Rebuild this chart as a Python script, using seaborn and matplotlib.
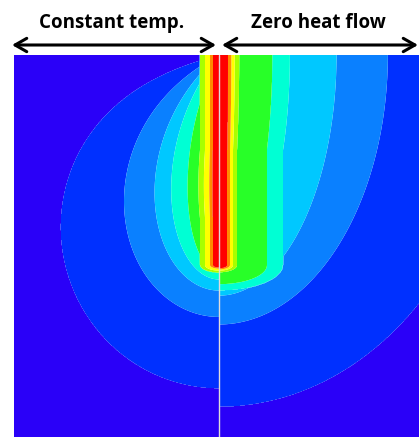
import numpy as np
import matplotlib
matplotlib.use("Agg")
import matplotlib.pyplot as plt
import seaborn as sns

sns.set_theme(style="white")
plt.rcParams['font.family'] = ['Open Sans', 'DejaVu Sans']

# ---------------- values ----------------
boundary_labels = ["Constant temp.", "Zero heat flow"]
# contour bands, coldest (outer) -> hottest (at the heat source)
band_colors = ['#2a00f8', '#0030ff', '#0a80ff', '#00c8ff', '#00ffd4',
               '#28ff28', '#a8ff00', '#ffff00', '#ff8c00', '#ff0000']
source_depth = 210.0          # length of the heated line below the top surface
left_extent = 205.0
right_extent = 200.0
domain_depth = 382.0
probe_depth = 95.0            # depth at which the band boundaries were read
# distance of each band boundary from the source line at probe depth (outer -> inner)
left_widths = [139, 86, 59, 44, 29, 19, 14, 9, 6]
right_widths = [272, 158, 108, 64, 48, 18, 14, 11, 8]
left_inner = 4                # innermost boundaries hug the source at uniform width
right_inner = 6
cap_stretch = 2.5             # flattening of the inner bands below the source tip


def seg_potential(x, y, top, bottom):
    length = bottom - top
    s = np.hypot(x, y - top) + np.hypot(x, y - bottom)
    return np.log((s + length) / np.maximum(s - length, 1e-6))


def left_field(x, y):
    # constant temperature on the top surface -> negative image source
    d = source_depth
    return seg_potential(x, y, 0.0, d) - seg_potential(x, y, -d, 0.0)


def right_field(x, y):
    # zero heat flow on the top surface -> mirrored image source
    d = source_depth
    return seg_potential(x, y, -d, d)


def band_index(field, x, y, widths, n_inner):
    idx = np.arange(1, len(widths) + 1, dtype=float)
    w = np.asarray(widths, float)
    vb = field(w, np.full_like(w, probe_depth))
    outer = np.interp(field(x, y), vb, idx, left=0.5, right=idx[-1] + 0.5)
    dist = np.where(y <= source_depth, np.abs(x),
                    np.hypot(x, (y - source_depth) * cap_stretch))
    w_in, i_in = w[-n_inner:][::-1], idx[-n_inner:][::-1]
    inner = np.interp(dist, w_in, i_in, left=idx[-1] + 0.5, right=0.0)
    return np.maximum(outer, inner)


fig = plt.figure(figsize=(4.19, 4.37), dpi=100)
ax = fig.add_axes([14 / 419, 0, 405 / 419, domain_depth / 437])

yy = np.linspace(0, domain_depth, 765)
levels = [-1] + list(range(1, 10)) + [11]

xl = np.linspace(-left_extent, 0, 411)
XL, YL = np.meshgrid(xl, yy)
ZL = band_index(left_field, np.abs(XL), YL, left_widths, left_inner)
ax.contourf(XL, YL, ZL, levels=levels, colors=band_colors, antialiased=True)

xr = np.linspace(0, right_extent, 401)
XR, YR = np.meshgrid(xr, yy)
ZR = band_index(right_field, XR, YR, right_widths, right_inner)
ax.contourf(XR, YR, ZR, levels=levels, colors=band_colors, antialiased=True)

# crack / symmetry line
ax.plot([0, 0], [0, domain_depth], color='#e0dcdc', lw=1.0)

ax.set_xlim(-left_extent, right_extent)
ax.set_ylim(domain_depth, 0)
ax.axis('off')

# boundary-condition annotations
arrow_y = 437 - 45
ax.annotate('', xy=(216, arrow_y), xytext=(12, arrow_y), xycoords='figure pixels',
            arrowprops=dict(arrowstyle='<->,head_length=0.7,head_width=0.4',
                            lw=2.2, color='black', shrinkA=0, shrinkB=0))
ax.annotate('', xy=(418, arrow_y), xytext=(222, arrow_y), xycoords='figure pixels',
            arrowprops=dict(arrowstyle='<->,head_length=0.7,head_width=0.4',
                            lw=2.2, color='black', shrinkA=0, shrinkB=0))
fig.text(112 / 419, 1 - 23 / 437, boundary_labels[0], ha='center', va='center',
         fontsize=13.5, fontweight='bold', color='black')
fig.text(318 / 419, 1 - 23 / 437, boundary_labels[1], ha='center', va='center',
         fontsize=13.5, fontweight='bold', color='black')

fig.savefig('out.png', dpi=100)
